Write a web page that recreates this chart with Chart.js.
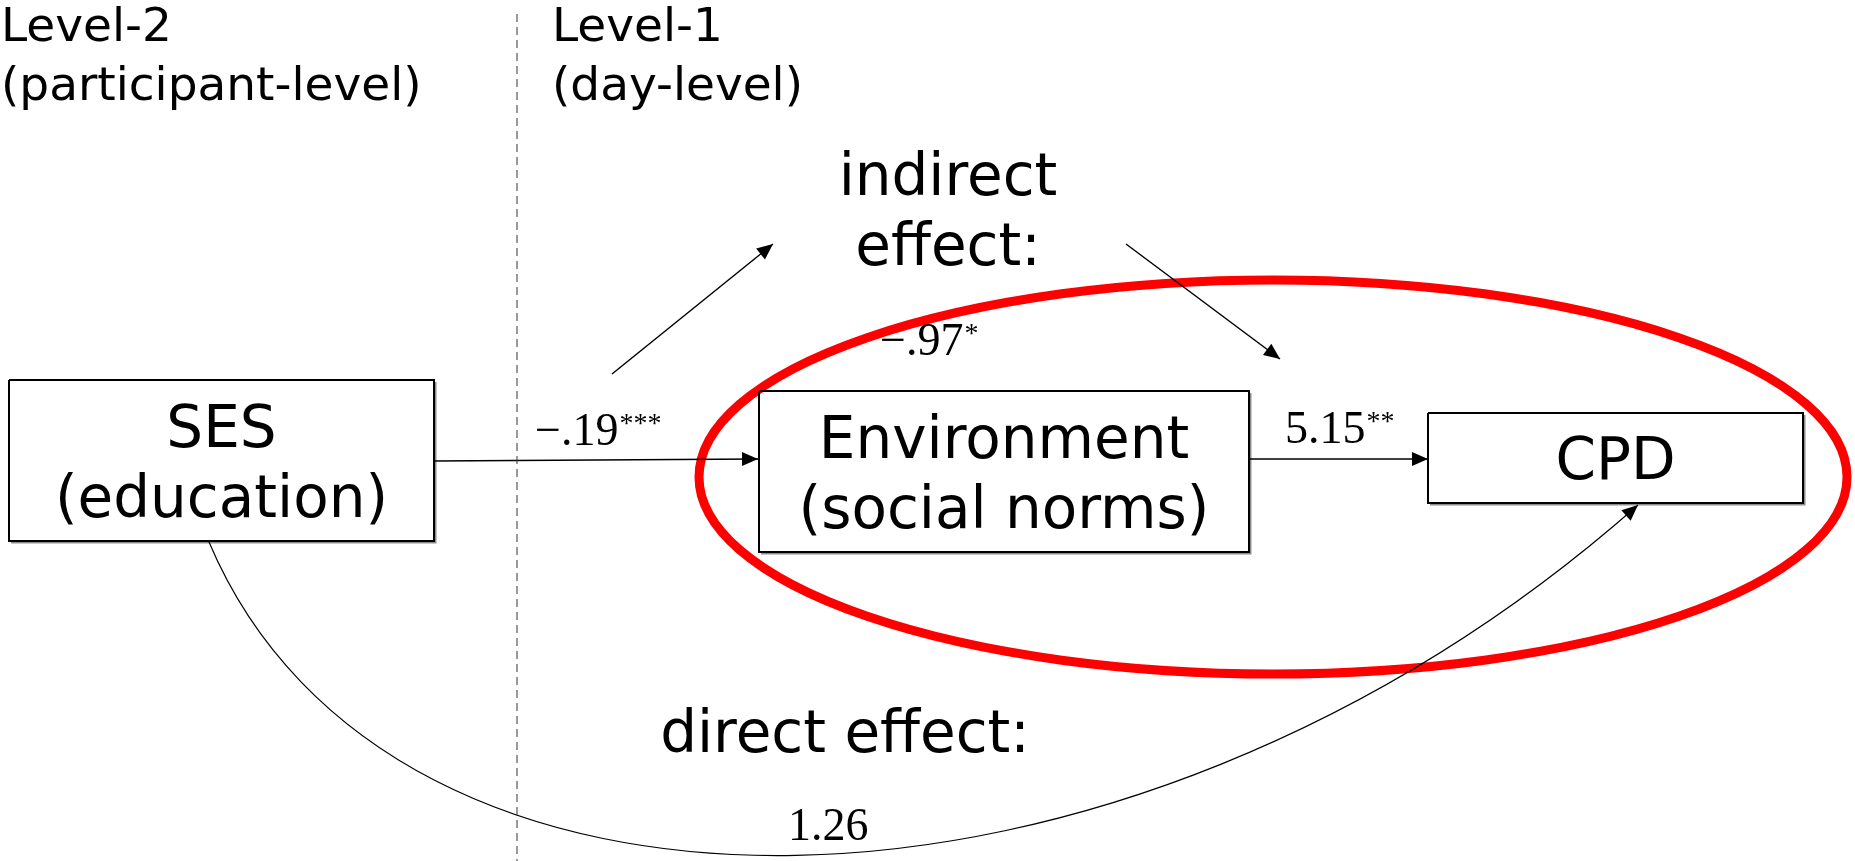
<!DOCTYPE html>
<html>
<head>
<meta charset="utf-8">
<script src="https://cdn.jsdelivr.net/npm/chart.js@4/dist/chart.umd.min.js"></script>
<style>
  html, body { margin: 0; padding: 0; background: #fff; }
  #wrap { width: 1855px; height: 861px; position: relative; }
</style>
</head>
<body>
<div id="wrap"><canvas id="pathChart"></canvas></div>
<script>
// diagram units: x 0..1855 left to right, y 0..861 top to bottom

// boxes (variables)
const boxLines = [['SES', '(education)'], ['Environment', '(social norms)'], ['CPD']];
const boxLeft = [9, 759, 1428];
const boxRight = [434, 1249, 1803];
const boxTop = [380, 391, 413];
const boxBottom = [541, 552, 503];

// path coefficients
const coefText = ['\u2212.19', '5.15', '\u2212.97', '1.26'];
const coefStars = ['***', '**', '*', ''];
const coefX = [535, 1285, 880, 788];
const coefY = [445, 443, 355, 840];

// level headers + divider
const levelLines = [['Level-2', '(participant-level)'], ['Level-1', '(day-level)']];
const levelX = [1, 552];
const dividerX = 517;

// effect captions
const effectLines = [['indirect', 'effect:'], ['direct effect:']];
const effectX = [948, 845];
const effectY = [195, 752];

// arrows
const sesToEnv = [[434, 461], [758, 459]];
const envToCpd = [[1249, 459], [1428, 459]];
const indirectIn = [[612, 374], [773, 244]];
const indirectOut = [[1126, 244], [1280, 359]];
// direct effect curve: start, two control points, end (SES bottom -> CPD bottom)
const directCurve = [[209, 542], [389, 968], [1118, 964], [1638, 505]];

// highlight ellipse
const ringCenter = [1273, 477];
const ringRadius = [574, 197];

const pts = arr => arr.map(p => ({ x: p[0], y: p[1] }));

function boxPts(i) {
  return [
    { x: boxLeft[i], y: boxTop[i] }, { x: boxRight[i], y: boxTop[i] },
    { x: boxRight[i], y: boxBottom[i] }, { x: boxLeft[i], y: boxBottom[i] },
    { x: boxLeft[i], y: boxTop[i] }
  ];
}

function shadowPts(i) {
  return [
    { x: boxRight[i] + 1.5, y: boxTop[i] + 2 }, { x: boxRight[i] + 1.5, y: boxBottom[i] + 1.5 },
    { x: boxLeft[i] + 2, y: boxBottom[i] + 1.5 }
  ];
}

const datasets = [];
boxLines.forEach((_, i) => {
  datasets.push({ data: shadowPts(i), borderColor: 'rgba(0,0,0,0.45)', borderWidth: 2 });
  datasets.push({ data: boxPts(i), borderColor: '#000', borderWidth: 2 });
});
datasets.push({ data: pts([[dividerX, 14], [dividerX, 861]]), borderColor: '#333', borderWidth: 1, borderDash: [8, 5] });
[sesToEnv, envToCpd, indirectIn, indirectOut].forEach(a => {
  datasets.push({ data: pts(a), borderColor: '#000', borderWidth: 1.5, arrow: true });
});

const SANS = '"DejaVu Sans", Verdana, sans-serif';
const SERIF = '"Liberation Serif", "Times New Roman", serif';

function drawHead(ctx, fromX, fromY, toX, toY) {
  const ang = Math.atan2(toY - fromY, toX - fromX);
  const len = 16, half = 7;
  ctx.save();
  ctx.fillStyle = '#000';
  ctx.translate(toX, toY);
  ctx.rotate(ang);
  ctx.beginPath();
  ctx.moveTo(0, 0);
  ctx.lineTo(-len, -half);
  ctx.lineTo(-len, half);
  ctx.closePath();
  ctx.fill();
  ctx.restore();
}

const ringPlugin = {
  id: 'ring',
  beforeDatasetsDraw(chart) {
    const { ctx, scales: { x, y } } = chart;
    const cx = x.getPixelForValue(ringCenter[0]);
    const cy = y.getPixelForValue(ringCenter[1]);
    const rx = x.getPixelForValue(ringCenter[0] + ringRadius[0]) - cx;
    const ry = y.getPixelForValue(ringCenter[1] + ringRadius[1]) - cy;
    ctx.save();
    ctx.strokeStyle = '#ff0000';
    ctx.lineWidth = 9;
    ctx.beginPath();
    ctx.ellipse(cx, cy, rx, ry, 0, 0, Math.PI * 2);
    ctx.stroke();
    ctx.restore();
  }
};

const arrowPlugin = {
  id: 'arrows',
  afterDatasetsDraw(chart) {
    const { ctx, scales: { x, y } } = chart;
    chart.data.datasets.forEach((ds, i) => {
      if (!ds.arrow) return;
      const els = chart.getDatasetMeta(i).data;
      const a = els[els.length - 2], b = els[els.length - 1];
      drawHead(ctx, a.x, a.y, b.x, b.y);
    });

    // direct effect: one cubic curve under the diagram
    const c = directCurve.map(p => [x.getPixelForValue(p[0]), y.getPixelForValue(p[1])]);
    ctx.save();
    ctx.strokeStyle = '#000';
    ctx.lineWidth = 1.2;
    ctx.beginPath();
    ctx.moveTo(c[0][0], c[0][1]);
    ctx.bezierCurveTo(c[1][0], c[1][1], c[2][0], c[2][1], c[3][0], c[3][1]);
    ctx.stroke();
    ctx.restore();
    drawHead(ctx, c[2][0], c[2][1], c[3][0], c[3][1]);
  }
};

const textPlugin = {
  id: 'texts',
  afterDatasetsDraw(chart) {
    const { ctx, scales: { x, y } } = chart;
    ctx.save();
    ctx.fillStyle = '#000';
    ctx.textBaseline = 'alphabetic';

    // level headers
    ctx.font = '47px ' + SANS;
    ctx.textAlign = 'left';
    levelLines.forEach((lines, i) => {
      lines.forEach((t, j) => ctx.fillText(t, x.getPixelForValue(levelX[i]), y.getPixelForValue(41 + j * 59)));
    });

    // box labels
    ctx.font = '58px ' + SANS;
    ctx.textAlign = 'center';
    boxLines.forEach((lines, i) => {
      const cx = (boxLeft[i] + boxRight[i]) / 2;
      const mid = (boxTop[i] + boxBottom[i]) / 2;
      const first = mid + 21 - (lines.length - 1) * 35;
      lines.forEach((t, j) => ctx.fillText(t, x.getPixelForValue(cx), y.getPixelForValue(first + j * 70)));
    });

    // effect captions
    effectLines.forEach((lines, i) => {
      lines.forEach((t, j) => ctx.fillText(t, x.getPixelForValue(effectX[i]), y.getPixelForValue(effectY[i] + j * 70)));
    });

    // coefficients with superscript stars
    ctx.textAlign = 'left';
    coefText.forEach((t, i) => {
      const px = x.getPixelForValue(coefX[i]);
      const py = y.getPixelForValue(coefY[i]);
      ctx.font = '46px ' + SERIF;
      ctx.fillText(t, px, py);
      if (coefStars[i]) {
        const w = ctx.measureText(t).width;
        ctx.font = '28px ' + SERIF;
        ctx.fillText(coefStars[i], px + w + 1, py - 13);
      }
    });
    ctx.restore();
  }
};

new Chart(document.getElementById('pathChart'), {
  type: 'scatter',
  data: { datasets: datasets },
  options: {
    responsive: true,
    maintainAspectRatio: false,
    animation: false,
    showLine: true,
    layout: { padding: 0 },
    elements: { point: { radius: 0, hoverRadius: 0 }, line: { fill: false } },
    datasets: { scatter: { clip: false } },
    scales: {
      x: { type: 'linear', min: 0, max: 1855, display: false },
      y: { type: 'linear', min: 0, max: 861, reverse: true, display: false }
    },
    plugins: {
      legend: { display: false },
      tooltip: { enabled: false }
    }
  },
  plugins: [ringPlugin, arrowPlugin, textPlugin]
});
</script>
</body>
</html>
